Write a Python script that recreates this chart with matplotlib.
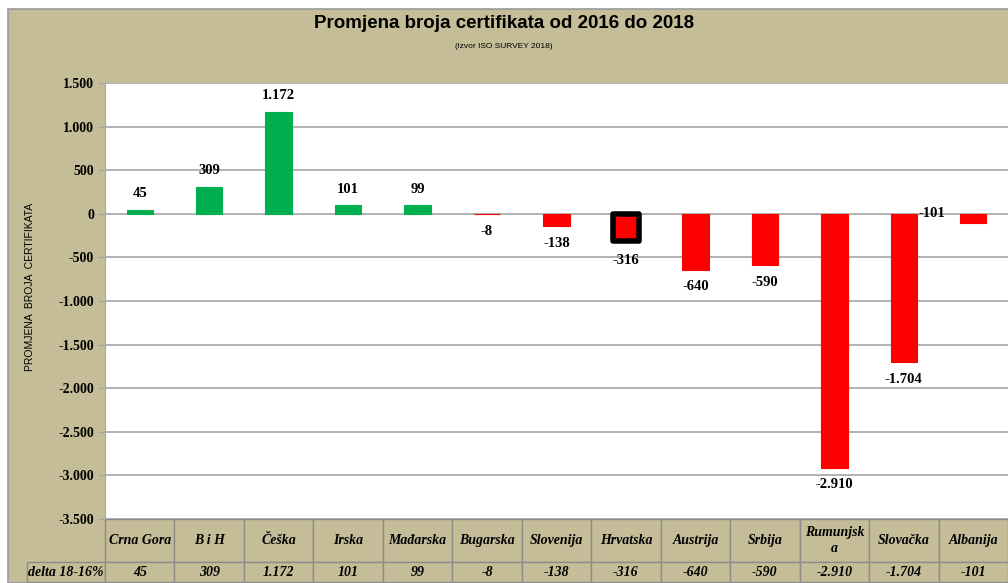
import numpy as np
import matplotlib
matplotlib.use('Agg')
import matplotlib.pyplot as plt
from matplotlib.patches import Rectangle

# data
zemlje = ['Crna Gora', 'B i H', 'Češka', 'Irska', 'Mađarska', 'Bugarska', 'Slovenija',
          'Hrvatska', 'Austrija', 'Srbija', 'Rumunjska', 'Slovačka', 'Albanija']
tablica_imena = ['Crna Gora', 'B i H', 'Češka', 'Irska', 'Mađarska', 'Bugarska', 'Slovenija',
                 'Hrvatska', 'Austrija', 'Srbija', 'Rumunjsk\na', 'Slovačka', 'Albanija']
delta = [45, 309, 1172, 101, 99, -8, -138, -316, -640, -590, -2910, -1704, -101]
y_ticks = [1500, 1000, 500, 0, -500, -1000, -1500, -2000, -2500, -3000, -3500]

BEZ = '#C4BD97'
ZELENA = '#00B050'
CRVENA = '#FF0000'
SIVA = '#A6A6A6'
SERIF = ['Liberation Serif', 'DejaVu Serif']

def fmt(v):
    return '{:,}'.format(int(v)).replace(',', '.')

W, H = 1008, 583
AX_W, AX_H = W - 105, 519 - 83
fig = plt.figure(figsize=(W / 100, H / 100), dpi=100)
fig.patch.set_facecolor('white')
pozadina = Rectangle((8 / W, 0), 1, (H - 9) / H, transform=fig.transFigure,
                     facecolor=BEZ, edgecolor='#9a9a9a', linewidth=1.2, zorder=-10)
fig.patches.append(pozadina)

ax = fig.add_axes([105 / W, (H - 519) / H, AX_W / W, AX_H / H])
ax.set_facecolor('white')

x = np.arange(len(zemlje))
boje = [ZELENA if v > 0 else CRVENA for v in delta]
bars = ax.bar(x, delta, width=0.38, color=boje, edgecolor=boje, linewidth=0.8, zorder=3)

# Hrvatska istaknuta
hr = zemlje.index('Hrvatska')
bars[hr].set_edgecolor('black')
bars[hr].set_linewidth(4)
bars[hr].set_joinstyle('round')

ax.set_xlim(-0.5, len(zemlje) - 0.5)
ax.set_ylim(-3500, 1500)
ax.set_yticks(y_ticks)
ax.set_yticklabels([fmt(t) for t in y_ticks], fontfamily=SERIF, fontweight='bold', fontsize=10)
ax.set_xticks([])
ax.tick_params(axis='y', direction='out', length=5, color=SIVA, width=1, pad=3)
ax.yaxis.grid(True, color=SIVA, linewidth=1.2, zorder=0)
for s in ['top', 'right', 'bottom']:
    ax.spines[s].set_visible(False)
ax.spines['left'].set_color(SIVA)

# oznake vrijednosti
for i, v in enumerate(delta):
    if zemlje[i] == 'Albanija':
        ax.annotate(fmt(v), (i - 0.6, 0), ha='center', va='center',
                    fontfamily=SERIF, fontweight='bold', fontsize=10.5, zorder=5)
        continue
    off = 11.5 if v > 0 else -12.5
    if i == hr:
        off = -13.5
    ax.annotate(fmt(v), (i, v), xytext=(0, off), textcoords='offset points',
                ha='center', va='center', fontfamily=SERIF, fontweight='bold',
                fontsize=10.5, zorder=5)

# tablica ispod grafa
tbl = ax.table(cellText=[[fmt(v) for v in delta]], colLabels=tablica_imena,
               rowLabels=['delta 18-16%'], cellLoc='center', rowLoc='center', loc='bottom')
tbl.auto_set_font_size(False)
tbl._autoColumns = []  # fiksna sirina prvog stupca
for (r, c), cell in tbl.get_celld().items():
    cell.set_facecolor(BEZ)
    cell.set_edgecolor('#8c8c8c')
    cell.set_linewidth(1)
    cell.set_height((43 if r == 0 else 20) / AX_H)
    cell.set_width((78 if c == -1 else AX_W / len(zemlje)) / AX_W)
    cell.get_text().set_fontfamily(SERIF)
    cell.get_text().set_fontweight('bold')
    cell.get_text().set_fontstyle('italic')
    cell.get_text().set_fontsize(10)
    cell.get_text().set_linespacing(1.3)

# naslovi
fig.text(0.5, 1 - 23 / H, 'Promjena broja certifikata od 2016 do 2018', ha='center', va='center',
         fontfamily=['Liberation Sans', 'DejaVu Sans'], fontweight='bold', fontsize=13.5)
fig.text(0.5, 1 - 47 / H, '(izvor ISO SURVEY 2018)', ha='center', va='center',
         fontfamily=['Liberation Sans', 'DejaVu Sans'], fontsize=6)
fig.text(30 / W, 1 - 287 / H, 'PROMJENA  BROJA  CERTIFIKATA', rotation=90, ha='center', va='center',
         fontfamily=['Liberation Sans', 'DejaVu Sans'], fontsize=7.5)

fig.savefig('out.png', dpi=100)
